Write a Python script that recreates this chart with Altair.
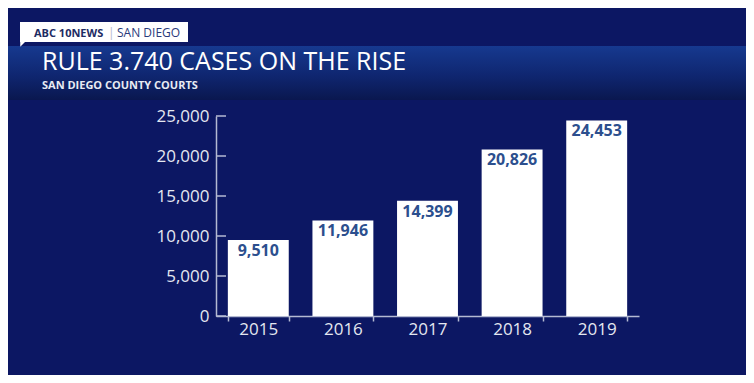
import altair as alt
import pandas as pd

years = ["2015", "2016", "2017", "2018", "2019"]
cases = [9510, 11946, 14399, 20826, 24453]
y_ticks = [0, 5000, 10000, 15000, 20000, 25000]

title = "RULE 3.740 CASES ON THE RISE"
subtitle = "SAN DIEGO COUNTY COURTS"
brand = "ABC 10NEWS"
place = "SAN DIEGO"

FONT = "Open Sans"
AXIS = "#b4bad3"
LABEL = "#e4e7f0"
BG = "#0c1763"

df = pd.DataFrame({"year": years, "cases": cases})
df["label"] = [f"{v:,}" for v in cases]
ticks = pd.DataFrame({"year": ["2015"] * len(y_ticks), "cases": y_ticks})
one = pd.DataFrame({"k": [0]})

x_axis = alt.Axis(
    labelAngle=0,
    labelFont=FONT,
    labelFontSize=17,
    labelColor=LABEL,
    labelPadding=0,
    domainColor=AXIS,
    domainWidth=1.5,
    tickColor=AXIS,
    tickWidth=1.5,
    tickSize=5,
    tickBand="extent",
    title=None,
)
x_scale = alt.Scale(paddingInner=0.28, paddingOuter=0.14)
y_axis = alt.Axis(
    values=y_ticks,
    format=",.0f",
    labelFont=FONT,
    labelFontSize=17,
    labelColor=LABEL,
    labelPadding=7,
    tickSize=0,
    domainColor=AXIS,
    domainWidth=1.5,
    grid=False,
    title=None,
)
y_scale = alt.Scale(domain=[0, 25000], nice=False)

X = alt.X("year:N", sort=years, scale=x_scale, axis=x_axis)
Y = alt.Y("cases:Q", scale=y_scale, axis=y_axis)

bars = alt.Chart(df).mark_bar(color="white").encode(x=X, y=Y)

values = alt.Chart(df).mark_text(
    font=FONT, fontSize=16, fontWeight="bold", color="#2c4f8e", baseline="middle", dy=11
).encode(x=X, y=Y, text="label:N")

yticks = alt.Chart(ticks).mark_rule(color=AXIS, strokeWidth=1.5).encode(
    y=Y, x=alt.value(0), x2=alt.value(10)
)

banner = alt.Chart(one).mark_rect(
    color=alt.LinearGradient(
        gradient="linear",
        stops=[
            alt.GradientStop(color="#16398f", offset=0),
            alt.GradientStop(color="#0f2670", offset=0.55),
            alt.GradientStop(color="#0a174f", offset=1),
        ],
        x1=0, x2=0, y1=0, y2=1,
    )
).encode(x=alt.value(-214), x2=alt.value(540), y=alt.value(-70), y2=alt.value(-16))

tagbox = alt.Chart(one).mark_rect(color="white").encode(
    x=alt.value(-196), x2=alt.value(-28), y=alt.value(-94), y2=alt.value(-74)
)
tagtail = alt.Chart(one).mark_point(
    shape="M -1 -1 L 1 -1 L -1 1 Z", filled=True, color="white", opacity=1, size=30
).encode(x=alt.value(-193), y=alt.value(-72))

def txt(s, x, y, size, color, weight="normal", baseline="alphabetic"):
    return alt.Chart(one).mark_text(
        text=s, font=FONT, fontSize=size, fontWeight=weight, color=color,
        align="left", baseline=baseline
    ).encode(x=alt.value(x), y=alt.value(y))

t_brand = txt(brand, -182, -79, 11, "#1d2b63", "bold")
t_sep = txt("|", -108, -79, 12, "#b5b9c9")
t_place = txt(place, -99, -79, 12, "#2a3a7a")
t_title = txt(title, -174, -46, 25, "white")
t_sub = txt(subtitle, -174, -27, 11, "#e8ebf3", "bold")

chart = alt.layer(
    banner, tagbox, tagtail, t_brand, t_sep, t_place, t_title, t_sub, bars, values, yticks
).properties(
    width=423,
    height=200,
    autosize="none",
    padding={"left": 208, "top": 108, "right": 107, "bottom": 59},
    background=BG,
).configure_view(stroke=None)

chart.save("out.html", embed_options={"renderer": "svg", "actions": False})
